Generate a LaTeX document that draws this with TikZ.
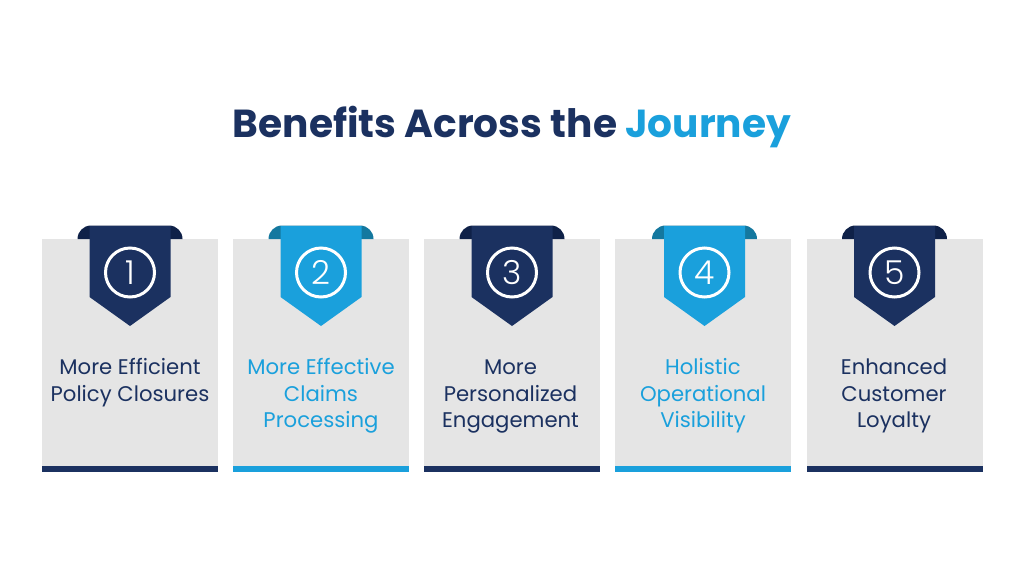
\documentclass[tikz,border=0pt]{standalone}
\usepackage{fontspec}
\setmainfont{Poppins}
\newfontfamily\numfont{Poppins Light}
\definecolor{navy}{HTML}{1B3160}
\definecolor{navydark}{HTML}{0F2148}
\definecolor{sky}{HTML}{1AA0DC}
\definecolor{skydark}{HTML}{14789F}
\definecolor{cardgray}{HTML}{E5E5E5}
\tikzset{
  cardbox/.style={fill=cardgray, draw=none, minimum width=176pt, minimum height=227pt, inner sep=0pt, outer sep=0pt, anchor=north},
  cardtext/.style={anchor=north, align=center, inner sep=0pt, font=\fontsize{21.2}{26.6}\selectfont},
  numring/.style={circle, draw=white, line width=3pt, minimum size=49pt, inner sep=0pt, text=white, font=\fontsize{33}{33}\numfont},
}
\begin{document}
\begin{tikzpicture}[x=1pt, y=-1pt]
    \useasboundingbox[fill=white] (0,0) rectangle (1024,576);
    \node[anchor=base, inner sep=0pt, font=\fontsize{39.1}{39}\selectfont\bfseries, text=navy] (title) at (512,137) {Benefits Across the \textcolor{sky}{Journey}};
    % Cards: centre / text centre / ribbon centre / colours / label
    \foreach \i/\cx/\tx/\rx/\main/\fold/\lbl in {
        1/129.5/130/130/navy/navydark/{More Efficient\\Policy Closures},
        2/321/321/321/sky/skydark/{More Effective\\Claims\\Processing},
        3/512/510.5/512/navy/navydark/{More\\Personalized\\Engagement},
        4/703/703/704.5/sky/skydark/{Holistic\\Operational\\Visibility},
        5/895/894/894.5/navy/navydark/{Enhanced\\Customer\\Loyalty}} {
        \node[cardbox] (card\i) at (\cx,239) {};
        \fill[\main] (card\i.south west) rectangle ([yshift=-6pt]card\i.south east);
        % folds behind the ribbon
        \fill[\fold] (\rx-52.5,239) arc[start angle=180, end angle=90, radius=13.5pt] -- (\rx+39,225.5) arc[start angle=90, end angle=0, radius=13.5pt] -- cycle;
        \fill[\main] (\rx-40.5,226) -- (\rx+40.5,226) -- (\rx+40.5,297) -- (\rx,326) -- (\rx-40.5,297) -- cycle;
        \node[numring] (num\i) at (\rx,272.5) {\i};
        \node[cardtext, text=\main] (label\i) at (\tx,355.6) {\strut\lbl};
    }
\end{tikzpicture}
\end{document}
